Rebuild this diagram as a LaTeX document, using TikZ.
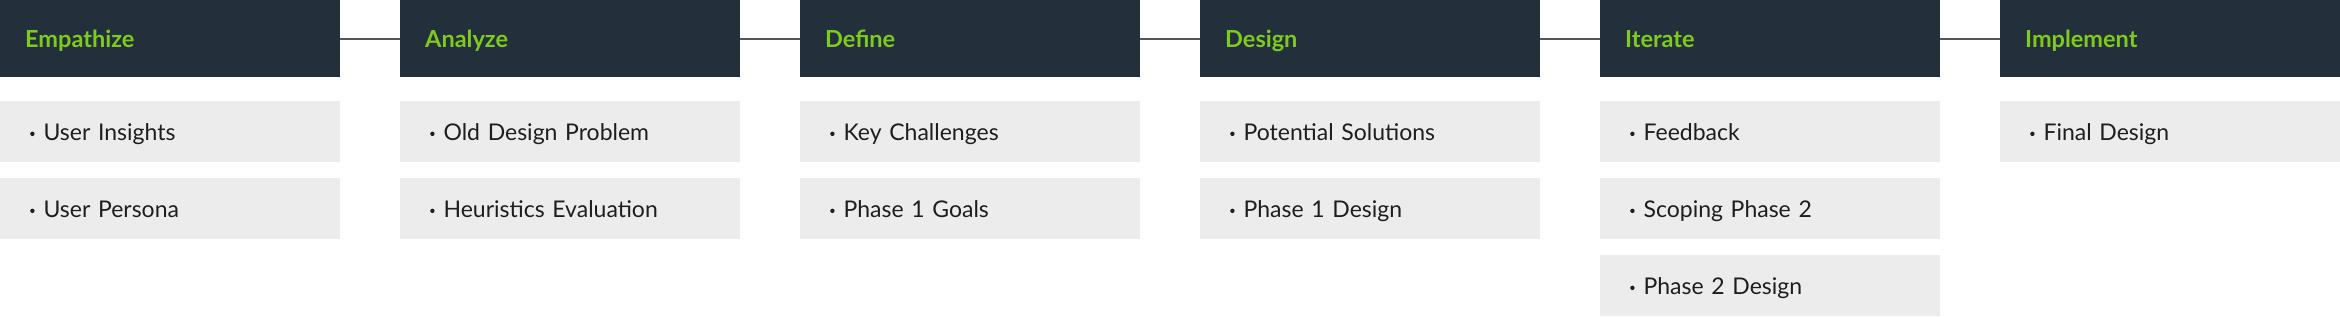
\documentclass[tikz,border=0pt]{standalone}
\usepackage{fontspec}
\setmainfont{Lato}
\definecolor{navy}{HTML}{232F3A}
\definecolor{hgreen}{HTML}{7CCB1E}
\definecolor{itembg}{HTML}{ECECEC}
\definecolor{itemtxt}{HTML}{1E1E1E}
\definecolor{linegray}{HTML}{555555}
\tikzset{
  hdr/.style={anchor=north west, fill=navy, text=hgreen, minimum width=340pt, minimum height=77pt,
    text width=290pt, inner xsep=25pt, inner ysep=0pt, align=left, text height=17pt, text depth=0pt,
    font=\fontsize{23.5pt}{28pt}\selectfont\bfseries},
  item/.style={anchor=north west, fill=itembg, text=itemtxt, minimum width=340pt, minimum height=61pt,
    text width=280pt, inner xsep=30pt, inner ysep=0pt, align=left, text height=17pt, text depth=0pt,
    font=\fontsize{23pt}{28pt}\selectfont},
  conn/.style={draw=linegray, line width=2pt}
}
\newcommand{\bul}{\raisebox{0.18em}{\tikz\fill (0,0) circle (2.2pt);}\hspace{9pt}}
\begin{document}
\begin{tikzpicture}[x=1pt,y=-1pt]
\useasboundingbox (0,0) rectangle (2340,316);
\node[hdr] (h1) at (0,0) {Empathize};
\node[hdr] (h2) at (400,0) {Analyze};
\node[hdr] (h3) at (800,0) {Define};
\node[hdr] (h4) at (1200,0) {Design};
\node[hdr] (h5) at (1600,0) {Iterate};
\node[hdr] (h6) at (2000,0) {Implement};
\draw[conn] (h1.east) -- (h2.west);
\draw[conn] (h2.east) -- (h3.west);
\draw[conn] (h3.east) -- (h4.west);
\draw[conn] (h4.east) -- (h5.west);
\draw[conn] (h5.east) -- (h6.west);
\node[item] (a1) at (0,101) {\bul User Insights};
\node[item] (a2) at (0,178) {\bul User Persona};
\node[item] (b1) at (400,101) {\bul Old Design Problem};
\node[item] (b2) at (400,178) {\bul Heuristics Evaluation};
\node[item] (c1) at (800,101) {\bul Key Challenges};
\node[item] (c2) at (800,178) {\bul Phase 1 Goals};
\node[item] (d1) at (1200,101) {\bul Potential Solutions};
\node[item] (d2) at (1200,178) {\bul Phase 1 Design};
\node[item] (e1) at (1600,101) {\bul Feedback};
\node[item] (e2) at (1600,178) {\bul Scoping Phase 2};
\node[item] (e3) at (1600,255) {\bul Phase 2 Design};
\node[item] (f1) at (2000,101) {\bul Final Design};
\end{tikzpicture}
\end{document}
